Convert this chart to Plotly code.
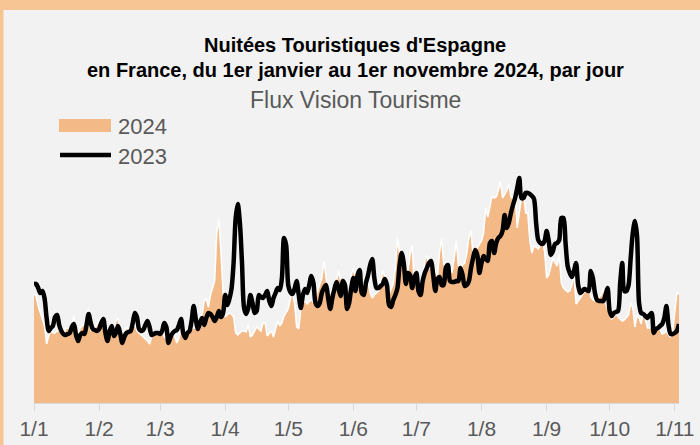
import pandas as pd
import plotly.graph_objects as go

# Daily values (arbitrary units), 1 Jan -> 3 Nov
nuitees_2024 = [
    109,107,97,90,85,77,59,67,72,70,
    70,72,72,69,67,74,75,74,79,87,
    65,69,75,77,79,85,94,72,75,75,
    79,82,85,75,69,74,75,79,75,82,
    85,70,69,72,75,74,72,75,79,72,
    70,69,67,65,62,59,66,68,69,70,
    70,72,66,65,68,70,70,66,60,65,
    74,72,72,73,74,74,75,75,74,75,
    90,102,104,96,108,115,122,170,184,150,
    110,86,88,90,89,86,70,68,70,72,
    72,71,78,66,68,72,76,74,72,80,
    80,67,70,72,66,74,82,77,80,87,
    90,94,104,110,100,76,74,94,100,102,
    99,102,104,100,105,112,118,125,142,122,
    108,110,115,119,122,132,122,115,120,122,
    112,128,135,124,128,134,112,115,118,122,
    110,105,108,110,112,122,132,126,118,109,
    114,119,135,165,150,140,145,138,132,148,
    158,118,120,122,120,122,142,148,134,136,
    139,132,125,150,165,138,140,142,136,130,
    145,162,138,134,138,140,150,165,172,147,
    152,155,158,162,170,195,186,195,207,205,
    206,212,222,205,208,212,219,206,204,210,
    175,190,205,210,190,190,162,150,157,156,
    154,158,162,152,125,128,136,145,140,137,
    148,120,115,113,111,112,118,129,99,102,
    105,108,110,114,119,106,103,102,103,105,
    108,115,100,94,89,84,86,90,86,84,
    82,83,85,88,100,95,76,88,85,79,
    92,82,75,75,76,78,77,76,73,69,
    70,72,68,66,72,95,110,109,
]

nuitees_2023 = [
    119,119,115,110,112,105,85,72,75,77,
    86,88,78,72,69,68,69,70,76,79,
    68,62,68,70,69,78,89,80,74,73,
    72,74,80,84,70,62,72,77,67,70,
    77,70,60,66,70,71,72,80,90,86,
    74,72,73,78,82,76,68,69,70,70,
    69,72,80,76,60,66,70,72,73,78,
    84,70,65,70,72,82,97,84,74,80,
    85,78,85,90,89,86,82,86,92,86,
    90,108,98,104,114,140,185,199,180,140,
    95,89,95,108,100,90,92,108,106,105,
    108,112,102,97,105,110,115,113,125,165,
    158,118,111,109,114,122,108,95,108,114,
    110,118,127,120,100,97,100,110,115,118,
    105,94,105,114,121,114,107,122,118,94,
    100,115,125,112,128,133,110,108,120,128,
    138,144,125,115,115,117,119,124,118,98,
    96,103,108,115,138,150,140,119,130,128,
    115,125,130,112,108,122,130,135,140,142,
    128,112,124,126,118,118,135,138,122,121,
    121,122,122,135,128,117,118,122,135,145,
    153,148,130,140,147,144,142,160,162,150,
    160,165,167,172,188,175,180,190,198,205,
    215,225,205,205,210,210,209,207,204,180,
    163,160,159,162,172,162,148,152,159,160,
    163,185,185,160,137,130,126,132,140,118,
    110,112,114,113,112,132,125,110,103,102,
    102,102,108,115,92,87,90,91,92,120,
    140,112,112,118,145,170,182,168,100,90,
    89,87,85,88,90,70,74,75,77,79,
    85,97,78,69,69,70,72,79,
]

dates = pd.date_range("2024-01-01", periods=len(nuitees_2024), freq="D")
tick_dates = pd.date_range("2024-01-01", "2024-11-01", freq="MS")
tick_labels = ["1/1", "1/2", "1/3", "1/4", "1/5", "1/6", "1/7", "1/8", "1/9", "1/10", "1/11"]
legend_labels = ["2024", "2023"]

ORANGE = "#F3B987"
FRAME = "#F7C594"
PANEL = "#F2F2F2"
TXT = "#595959"
SANS = "Liberation Sans, Arial, sans-serif"

fig = go.Figure()
fig.add_trace(go.Scatter(
    x=dates, y=nuitees_2024, name=legend_labels[0], mode="lines",
    fill="tozeroy", fillcolor=ORANGE,
    line=dict(color="white", width=1.5), showlegend=False,
))
fig.add_trace(go.Scatter(
    x=dates, y=nuitees_2023, name=legend_labels[1], mode="lines",
    line=dict(color="black", width=4.5, shape="spline", smoothing=0.8), showlegend=False,
))

H = 240.0
W = 645.0
def py(p):
    return (403 - p) / H
def px(p):
    return (p - 34) / W

# panel
fig.add_shape(type="rect", xref="paper", yref="paper",
              x0=px(3.5), x1=px(720), y0=py(470), y1=py(10),
              fillcolor=PANEL, line=dict(width=0), layer="below")

# legend (drawn by hand to match the wide swatches)
fig.add_shape(type="rect", xref="paper", yref="paper",
              x0=px(59), x1=px(111), y0=py(132), y1=py(119),
              fillcolor=ORANGE, line=dict(width=0))
fig.add_shape(type="line", xref="paper", yref="paper",
              x0=px(60), x1=px(111), y0=py(155), y1=py(155),
              line=dict(color="black", width=4.5))
for lab, yy in zip(legend_labels, [126, 156]):
    fig.add_annotation(text=lab, x=px(116), y=py(yy), xref="paper", yref="paper",
                       showarrow=False, xanchor="left", yanchor="middle",
                       font=dict(family=SANS, size=22, color=TXT))

fig.add_annotation(text="<b>Nuitées Touristiques d'Espagne</b>", x=px(355), y=py(45),
                   xref="paper", yref="paper", showarrow=False, xanchor="center", yanchor="middle",
                   font=dict(family=SANS, size=20, color="black"))
fig.add_annotation(text="<b>en France, du 1er janvier au 1er novembre 2024, par jour</b>", x=px(355), y=py(70),
                   xref="paper", yref="paper", showarrow=False, xanchor="center", yanchor="middle",
                   font=dict(family=SANS, size=20, color="black"))
fig.add_annotation(text="Flux Vision Tourisme", x=px(355), y=py(100),
                   xref="paper", yref="paper", showarrow=False, xanchor="center", yanchor="middle",
                   font=dict(family=SANS, size=23, color=TXT))

fig.update_layout(
    width=700, height=445,
    margin=dict(l=34, r=21, t=163, b=42, autoexpand=False),
    paper_bgcolor=FRAME, plot_bgcolor=PANEL,
    showlegend=False,
    xaxis=dict(range=[dates[0], dates[-1]], tickvals=tick_dates, ticktext=tick_labels,
               automargin=False,
               showgrid=False, zeroline=False, showline=True, linecolor="#D9D9D9", linewidth=1,
               ticks="outside", ticklen=7, tickcolor="#D9D9D9",
               tickfont=dict(family=SANS, size=21, color=TXT)),
    yaxis=dict(range=[0, H], visible=False, fixedrange=True, automargin=False),
)

fig.write_html("out.html", config={"displayModeBar": False},
               post_script="document.body.style.margin='0';document.body.style.overflow='hidden';")
